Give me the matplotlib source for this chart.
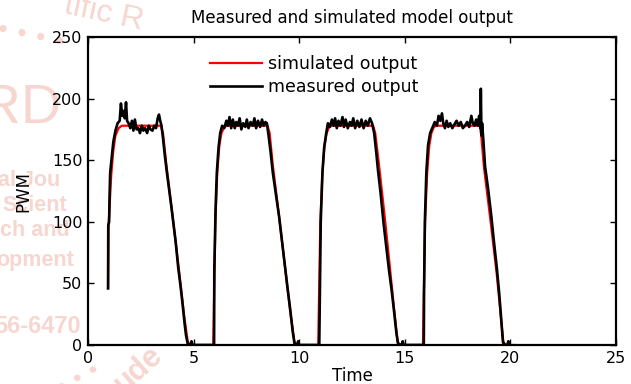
import matplotlib
matplotlib.use("Agg")
import matplotlib.pyplot as plt

plt.rcParams["font.family"] = ["DejaVu Sans"]

# Simulated model output (PWM vs time)
t_sim = [0.95, 0.97, 1.0, 1.1, 1.2, 1.3, 1.45, 1.6, 3.45, 3.55, 3.7, 4.0, 4.3, 4.55, 4.72, 4.82,
         5.93, 5.97, 6.03, 6.12, 6.22, 6.32, 6.45, 6.6, 8.5, 8.6, 8.75, 9.05, 9.35, 9.6, 9.77, 9.87,
         10.9, 10.94, 11.0, 11.1, 11.2, 11.3, 11.42, 11.55, 13.5, 13.6, 13.78, 14.05, 14.3, 14.5, 14.66, 14.76,
         15.86, 15.9, 15.96, 16.06, 16.16, 16.26, 16.38, 16.5, 18.55, 18.62, 18.75, 19.05, 19.35, 19.52, 19.66, 19.76,
         20.2]
pwm_sim = [46, 97, 105, 138, 158, 170, 176, 178, 178, 172, 148, 105, 62, 24, 3, 0,
           0, 40, 100, 140, 162, 172, 177, 178, 178, 172, 146, 104, 60, 24, 3, 0,
           0, 40, 100, 140, 162, 172, 177, 178, 178, 172, 146, 104, 62, 28, 3, 0,
           0, 40, 100, 140, 162, 172, 177, 178, 178, 170, 144, 102, 58, 28, 3, 0,
           0]

# Measured output (PWM vs time)
t_meas = [0.95, 0.96, 1.0, 1.02, 1.05, 1.12, 1.2, 1.3, 1.4, 1.5, 1.56, 1.62, 1.68, 1.74, 1.8, 1.85,
          1.92, 2.0, 2.08, 2.15, 2.22, 2.3, 2.38, 2.46, 2.55, 2.62, 2.7, 2.8, 2.88, 2.96, 3.05, 3.14,
          3.22, 3.3, 3.36, 3.42, 3.48, 3.55, 3.65, 3.75, 3.85, 3.95, 4.05, 4.15, 4.27, 4.38, 4.48,
          4.57, 4.64, 4.72, 4.85, 4.9, 4.95,
          5.97, 5.98, 6.04, 6.1, 6.18, 6.26, 6.35, 6.45, 6.55, 6.62, 6.7, 6.78, 6.86, 6.95, 7.02,
          7.1, 7.18, 7.26, 7.35, 7.45, 7.52, 7.6, 7.7, 7.8, 7.88, 7.96, 8.05, 8.15, 8.24, 8.32, 8.4,
          8.47, 8.55, 8.65, 8.75, 8.9, 9.05, 9.2, 9.33, 9.45, 9.58, 9.7, 9.78, 9.9, 9.95, 10.0,
          10.95, 10.97, 11.02, 11.1, 11.18, 11.28, 11.36, 11.45, 11.55, 11.63, 11.7, 11.78, 11.86,
          11.95, 12.05, 12.12, 12.2, 12.3, 12.4, 12.48, 12.56, 12.65, 12.75, 12.85, 12.95, 13.05,
          13.15, 13.25, 13.35, 13.45, 13.55, 13.65, 13.73, 13.85, 14.0, 14.12, 14.25, 14.38, 14.5,
          14.6, 14.68, 14.85, 14.9, 14.95,
          15.9, 15.91, 15.95, 16.02, 16.1, 16.2, 16.3, 16.42, 16.52, 16.6, 16.68, 16.76, 16.82,
          16.9, 16.98, 17.06, 17.15, 17.25, 17.35, 17.45, 17.55, 17.65, 17.75, 17.85, 17.95, 18.05,
          18.15, 18.22, 18.3, 18.38, 18.46, 18.52, 18.58, 18.6, 18.63, 18.66, 18.72, 18.8, 18.95,
          19.1, 19.22, 19.36, 19.47, 19.56, 19.65, 19.75, 19.85, 19.9, 19.95]
pwm_meas = [46, 97, 100, 120, 140, 152, 165, 174, 180, 182, 196, 186, 190, 184, 197, 182,
            180, 176, 182, 174, 183, 175, 176, 172, 178, 174, 176, 172, 178, 175, 174, 178,
            176, 184, 187, 182, 178, 168, 152, 138, 125, 112, 98, 84, 63, 48, 33,
            18, 8, 1, 0, 3, 0,
            0, 60, 110, 140, 160, 172, 178, 176, 182, 178, 185, 176, 183, 176, 181,
            178, 184, 175, 180, 177, 183, 176, 181, 178, 184, 176, 182, 177, 183, 178, 181,
            180, 170, 156, 140, 122, 104, 82, 63, 46, 28, 10, 1, 0, 3, 0,
            0, 30, 100, 140, 160, 172, 180, 177, 183, 178, 184, 176, 182,
            178, 185, 177, 183, 176, 181, 178, 184, 176, 182, 177, 183, 176,
            182, 178, 184, 180, 172, 156, 142, 124, 98, 80, 61, 44, 26,
            10, 1, 0, 3, 0,
            0, 40, 100, 140, 162, 172, 176, 181, 178, 186, 182, 188, 180,
            176, 182, 177, 180, 176, 179, 182, 178, 181, 176, 178, 181, 177,
            186, 180, 178, 183, 178, 186, 176, 208, 170, 180, 166, 145, 126,
            104, 84, 62, 42, 22, 2, 0, 0, 3, 0]

ticks_x = [0, 5, 10, 15, 20, 25]
ticks_y = [0, 50, 100, 150, 200, 250]

WM = "#f7d6d0"
W, H = 631, 384


def wm(x, y, s, size, **kw):
    """Faint journal watermark text placed in figure pixels from the top-left."""
    fig.text(x / W, 1 - y / H, s, fontsize=size, color=WM, zorder=-1,
             family=["Liberation Sans", "DejaVu Sans"], **kw)


fig = plt.figure(figsize=(6.31, 3.84), dpi=100)

# journal watermark sitting behind the axes
wm(62, 124, "IJTSRD", 40, ha="right")
wm(-2, 186, "al Jou", 15.5, fontweight="bold")
wm(2, 211, "Scient", 15.5, fontweight="bold")
wm(0, 236, "ch and", 15.5, fontweight="bold")
wm(-4, 266, "opment", 15.5, fontweight="bold")
wm(-6, 333, "56-6470", 17, fontweight="bold")
wm(62, 30, "tific R", 23, rotation=-12)
wm(-4, 46, "\u25cf  \u25cf  \u25cf  \u25cf", 12, rotation=-12)
wm(108, 392, "ude", 22, rotation=42, fontweight="bold")
wm(55, 392, "\u25cf  \u25cf  \u25cf", 11, rotation=28)

ax = fig.add_axes([88 / W, 1 - 345 / H, 528 / W, 308 / H])
ax.set_facecolor("white")

ax.plot(t_sim, pwm_sim, color="red", linewidth=1.6, label="simulated output")
ax.plot(t_meas, pwm_meas, color="black", linewidth=1.9, label="measured output")

ax.set_xlim(0, 25)
ax.set_ylim(0, 250)
ax.set_xticks(ticks_x)
ax.set_yticks(ticks_y)
ax.tick_params(direction="in", length=4, width=1, top=True, right=True,
               labelsize=11.5, pad=4, colors="black")
for s in ax.spines.values():
    s.set_linewidth(1.6)

ax.set_title("Measured and simulated model output", fontsize=12, pad=10)
ax.set_xlabel("Time", fontsize=12, labelpad=1)
ax.set_ylabel("PWM", fontsize=12)
ax.yaxis.set_label_coords(-0.106, 0.5)

ax.legend(loc="upper left", bbox_to_anchor=(0.218, 0.964), frameon=False, fontsize=12.5,
          handlelength=3.0, handletextpad=0.35, labelspacing=0.3, borderaxespad=0)

fig.savefig("out.png", dpi=100)
